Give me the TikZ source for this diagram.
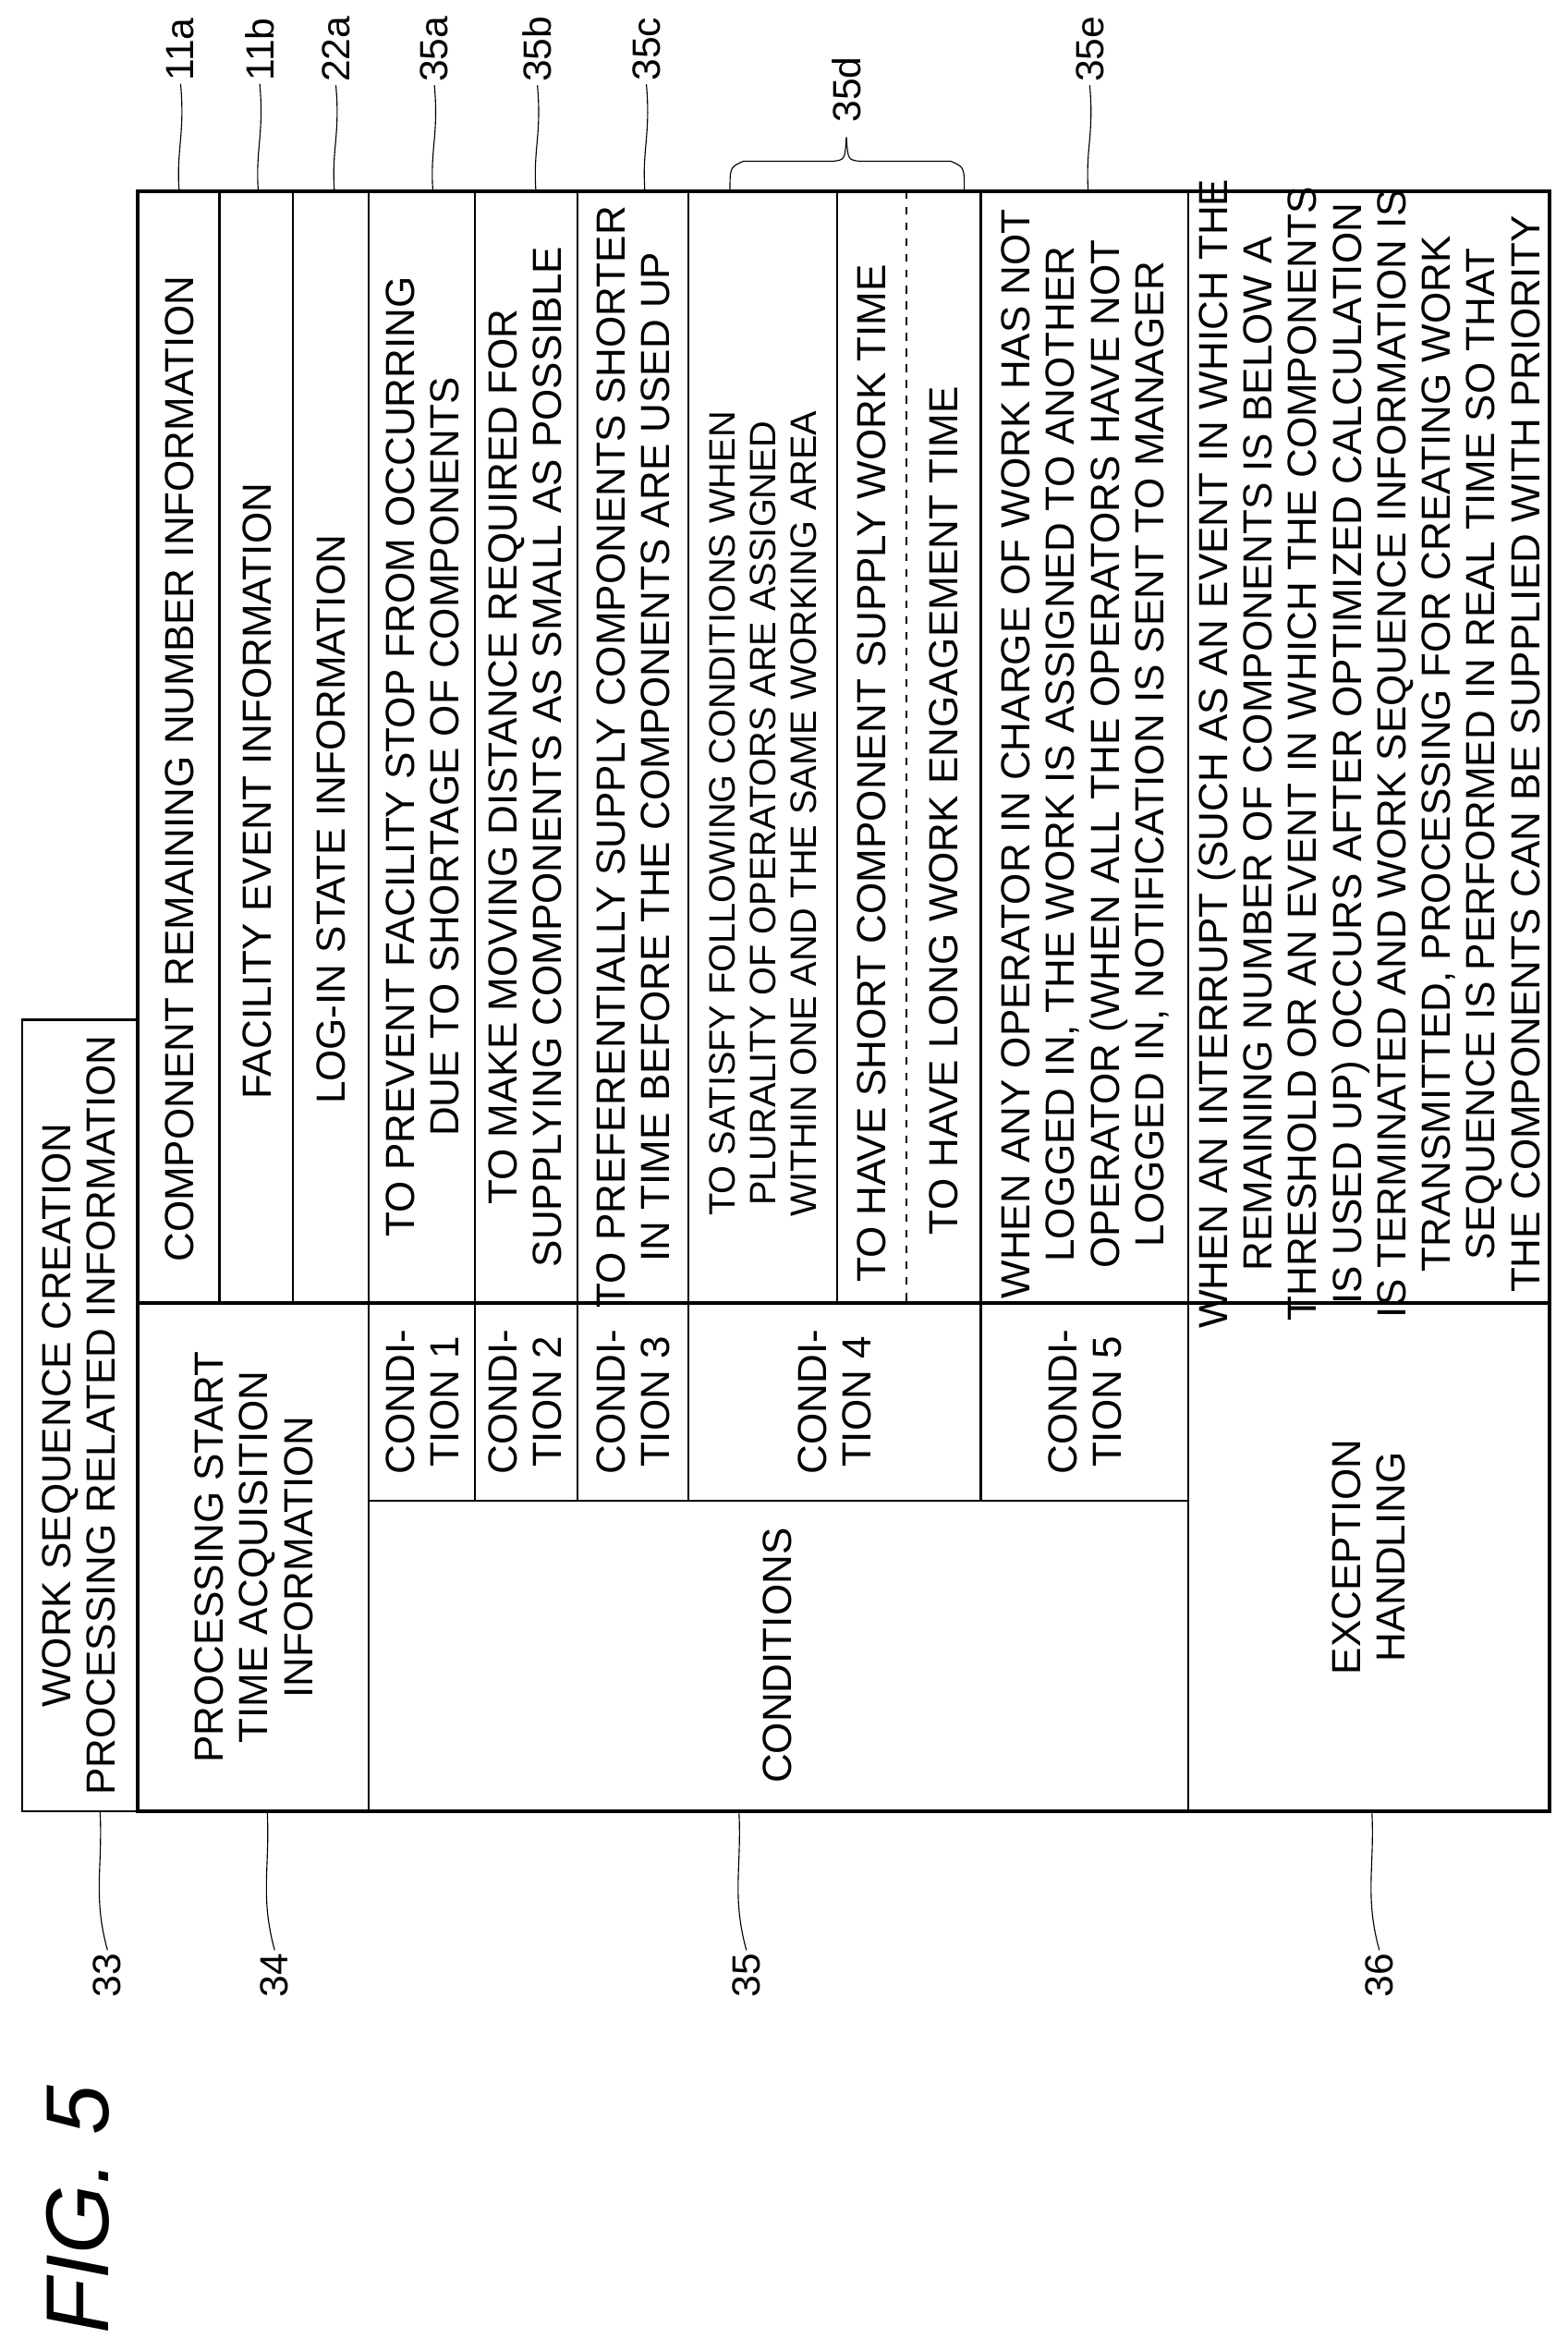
\documentclass[tikz,border=0pt]{standalone}
\usepackage{fontspec}
\setmainfont{Liberation Sans}
\begin{document}
\begin{tikzpicture}[x=0.02cm,y=-0.02cm,
    cell/.style={rotate=90,align=center,inner sep=0pt,font=\fontsize{15.5}{17}\selectfont},
    smallcell/.style={cell,font=\fontsize{14}{15.5}\selectfont},
    refnum/.style={rotate=90,inner sep=1pt,font=\fontsize{15}{17}\selectfont},
    gridline/.style={line width=0.8pt},
    frameline/.style={line width=1.4pt},
    leader/.style={line width=0.4pt}]
    \useasboundingbox (0,0) rectangle (1050,1566);

    % Outer frames
    \draw[gridline] (15,683) rectangle (92,1213);
    \draw[frameline] (92,128) rectangle (1038,1213);

    % Column lines of the upper part
    \foreach \cx in {147,196,247,318,387,461,561,657}
        \draw[gridline] (\cx,128) -- (\cx,873);
    \draw[gridline,dashed] (607,128) -- (607,873);
    \draw[gridline] (796,128) -- (796,1213);
    \draw[frameline] (92,873) -- (1038,873);

    % Lower part
    \foreach \cx in {247,318,387,461,657}
        \draw[gridline] (\cx,873) -- (\cx,1005);
    \draw[gridline] (247,873) -- (247,1213);
    \draw[gridline] (247,1005) -- (796,1005);

    % Cell texts
    \node[cell] (head) at (53,948) {WORK SEQUENCE CREATION\\PROCESSING RELATED INFORMATION};
    \node[cell] (remain) at (120,515) {COMPONENT REMAINING NUMBER INFORMATION};
    \node[cell] (facility) at (172,530) {FACILITY EVENT INFORMATION};
    \node[cell] (login) at (222,549) {LOG-IN STATE INFORMATION};
    \node[cell] (condA) at (283,507) {TO PREVENT FACILITY STOP FROM OCCURRING\\DUE TO SHORTAGE OF COMPONENTS};
    \node[cell] (condB) at (352,507) {TO MAKE MOVING DISTANCE REQUIRED FOR\\SUPPLYING COMPONENTS AS SMALL AS POSSIBLE};
    \node[cell] (condC) at (424,507) {TO PREFERENTIALLY SUPPLY COMPONENTS SHORTER\\IN TIME BEFORE THE COMPONENTS ARE USED UP};
    \node[smallcell] (condD) at (511,545) {TO SATISFY FOLLOWING CONDITIONS WHEN\\PLURALITY OF OPERATORS ARE ASSIGNED\\WITHIN ONE AND THE SAME WORKING AREA};
    \node[cell] (shortT) at (584,518) {TO HAVE SHORT COMPONENT SUPPLY WORK TIME};
    \node[cell] (longT) at (632,543) {TO HAVE LONG WORK ENGAGEMENT TIME};
    \node[cell] (condE) at (727,505) {WHEN ANY OPERATOR IN CHARGE OF WORK HAS NOT\\LOGGED IN, THE WORK IS ASSIGNED TO ANOTHER\\OPERATOR (WHEN ALL THE OPERATORS HAVE NOT\\LOGGED IN, NOTIFICATION IS SENT TO MANAGER};
    \node[cell] (except) at (917,505) {WHEN AN INTERRUPT (SUCH AS AN EVENT IN WHICH THE\\REMAINING NUMBER OF COMPONENTS IS BELOW A\\THRESHOLD OR AN EVENT IN WHICH THE COMPONENTS\\IS USED UP) OCCURS AFTER OPTIMIZED CALCULATION\\IS TERMINATED AND WORK SEQUENCE INFORMATION IS\\TRANSMITTED, PROCESSING FOR CREATING WORK\\SEQUENCE IS PERFORMED IN REAL TIME SO THAT\\THE COMPONENTS CAN BE SUPPLIED WITH PRIORITY};

    \node[cell] (start) at (170,1043) {PROCESSING START\\TIME ACQUISITION\\INFORMATION};
    \node[cell] (cond1) at (283,939) {CONDI-\\TION 1};
    \node[cell] (cond2) at (352,939) {CONDI-\\TION 2};
    \node[cell] (cond3) at (424,939) {CONDI-\\TION 3};
    \node[cell] (cond4) at (559,939) {CONDI-\\TION 4};
    \node[cell] (cond5) at (727,939) {CONDI-\\TION 5};
    \node[cell] (conds) at (521,1109) {CONDITIONS};
    \node[cell] (handle) at (917,1043) {EXCEPTION\\HANDLING};

    % Reference numerals at the top
    \node[refnum] (n11a) at (121,33) {11a};
    \node[refnum] (n11b) at (174,33) {11b};
    \node[refnum] (n22a) at (225,33) {22a};
    \node[refnum] (n35a) at (291,33) {35a};
    \node[refnum] (n35b) at (360,33) {35b};
    \node[refnum] (n35c) at (433,33) {35c};
    \node[refnum] (n35d) at (567,60) {35d};
    \node[refnum] (n35e) at (730,33) {35e};

    \foreach \nm/\cx in {n11a/121,n11b/174,n22a/225,n35a/291,n35b/360,n35c/433,n35e/730}
        \draw[leader] (\cx-1,128) .. controls (\cx-3,100) and (\cx+3,90) .. (\nm.west);

    % Brace for 35d
    \coordinate (bl) at (489,128);
    \coordinate (br) at (646,128);
    \coordinate (tip) at (567,92);
    \draw[leader] (bl) .. controls (489,112) .. (498,108) -- (558,108) .. controls (566,107) .. (tip);
    \draw[leader] (br) .. controls (646,112) .. (637,108) -- (576,108) .. controls (568,107) .. (tip);

    % Reference numerals at the bottom
    \node[refnum] (n33) at (72,1323) {33};
    \node[refnum] (n34) at (184,1323) {34};
    \node[refnum] (n35) at (500,1323) {35};
    \node[refnum] (n36) at (924,1323) {36};

    \foreach \nm/\cx in {n33/70,n34/182,n35/498,n36/922}
        \draw[leader] (\cx-3,1213) .. controls (\cx-1,1250) and (\cx-8,1270) .. (\nm.east);

    % Figure title
    \node[rotate=90,font=\fontsize{34}{40}\selectfont\itshape] (fig) at (52,1480) {FIG. 5};
\end{tikzpicture}
\end{document}
